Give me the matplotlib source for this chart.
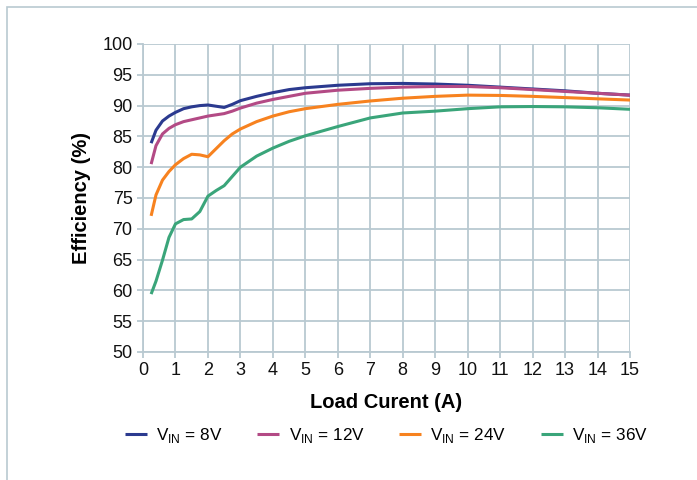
import matplotlib.pyplot as plt
from matplotlib.patches import Rectangle

plt.rcParams['font.family'] = ['Liberation Sans', 'DejaVu Sans']
plt.rcParams['mathtext.fontset'] = 'custom'
plt.rcParams['mathtext.rm'] = 'Liberation Sans'

# load current (A)
current = [0.25, 0.4, 0.6, 0.8, 1.0, 1.25, 1.5, 1.75, 2.0, 2.25, 2.5, 2.75, 3.0,
           3.5, 4, 4.5, 5, 6, 7, 8, 9, 10, 11, 12, 13, 14, 15]

eff_8v = [83.9, 86.0, 87.5, 88.3, 88.9, 89.5, 89.8, 90.0, 90.1, 89.9, 89.7, 90.2, 90.8,
          91.5, 92.1, 92.6, 92.9, 93.3, 93.55, 93.6, 93.5, 93.3, 93.0, 92.7, 92.4, 92.0, 91.7]
eff_12v = [80.5, 83.5, 85.4, 86.3, 86.9, 87.4, 87.7, 88.0, 88.3, 88.5, 88.7, 89.1, 89.6,
           90.4, 91.0, 91.5, 92.0, 92.5, 92.8, 93.0, 93.1, 93.1, 92.9, 92.6, 92.3, 92.0, 91.7]
eff_24v = [72.1, 75.5, 77.9, 79.3, 80.4, 81.4, 82.1, 82.0, 81.7, 83.0, 84.3, 85.4, 86.2,
           87.4, 88.3, 89.0, 89.5, 90.2, 90.75, 91.2, 91.5, 91.7, 91.65, 91.5, 91.3, 91.1, 90.9]
eff_36v = [59.4, 61.5, 64.9, 68.6, 70.8, 71.5, 71.6, 72.8, 75.3, 76.2, 77.0, 78.5, 80.0,
           81.8, 83.1, 84.2, 85.1, 86.6, 88.0, 88.8, 89.1, 89.5, 89.8, 89.85, 89.8, 89.65, 89.4]

series = [
    (eff_8v, '8V', '#2b3a8f'),
    (eff_12v, '12V', '#b34a85'),
    (eff_24v, '24V', '#f7821f'),
    (eff_36v, '36V', '#3aa57a'),
]

fig = plt.figure(figsize=(6.97, 4.8), dpi=100)
ax = fig.add_axes([143 / 697, 1 - 352 / 480, 487 / 697, 308 / 480])

grid_color = '#b9c9d1'
for y, lab, c in series:
    ax.plot(current, y, color=c, linewidth=2.2, solid_capstyle='butt',
            label='V$_{\\mathregular{IN}}$ = ' + lab)

ax.set_xlim(0, 15)
ax.set_ylim(50, 100)
ax.set_xticks(range(0, 16))
ax.set_yticks(range(50, 101, 5))
ax.grid(True, color=grid_color, linewidth=1.3)
ax.set_axisbelow(True)
for s in ax.spines.values():
    s.set_visible(False)
for side in ['left', 'bottom']:
    ax.spines[side].set_visible(True)
    ax.spines[side].set_color(grid_color)
    ax.spines[side].set_linewidth(1.3)
ax.tick_params(axis='both', colors=grid_color, labelcolor='#111111',
               labelsize=13, length=4, width=1.3)

ax.set_xlabel('Load Curent (A)', fontsize=14.5, fontweight='bold', labelpad=10)
ax.set_ylabel('Efficiency (%)', fontsize=14.5, fontweight='bold', labelpad=8)

ax.legend(loc='upper center', bbox_to_anchor=(0.5, -0.19), ncol=4, frameon=False,
          fontsize=12.3, handlelength=1.3, columnspacing=2.0, handletextpad=0.55)

fig.patches.append(Rectangle((7 / 697, -0.1), 2, 1 - 7 / 480 + 0.1,
                             transform=fig.transFigure, fill=False,
                             edgecolor='#b9c9d1', linewidth=1.2))

fig.savefig('out.png', dpi=100)
